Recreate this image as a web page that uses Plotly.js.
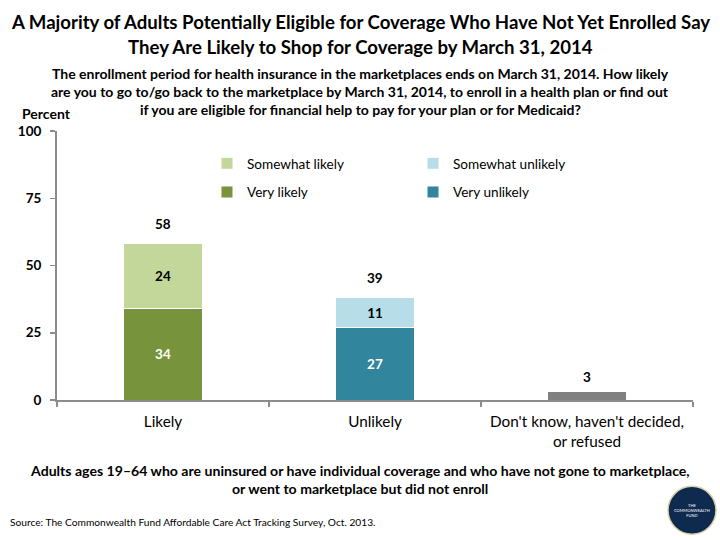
<!DOCTYPE html>
<html>
<head>
<meta charset="utf-8">
<script src="https://cdn.plot.ly/plotly-3.0.1.min.js"></script>
<style>html,body{margin:0;padding:0;background:#fff;}#chart{width:720px;height:540px;}</style>
</head>
<body>
<div id="chart"></div>
<script>
const categories = ["Likely", "Unlikely", "Don't know, haven't decided,<br>or refused"];
const veryLikely = [34, null, null];
const somewhatLikely = [24, null, null];
const veryUnlikely = [null, 27, null];
const somewhatUnlikely = [null, 11, null];
const dontKnow = [null, null, 3];
const totals = [58, 38, 3];
const totalLabels = ["58", "39", "3"];
const yTicks = [0, 25, 50, 75, 100];

const FONT = "Lato, 'Open Sans', sans-serif";
const L = 57, T = 131, B = 139.5, R = 27;
const plotH = 540 - T - B;
const py = p => (540 - B - p) / plotH;   // pixel y -> paper y
const px = p => (p - L) / (720 - L - R); // pixel x -> paper x

function barTrace(name, y, color, textColor, legend, showlegend) {
  return {
    type: 'bar', x: categories, y: y, name: name,
    marker: {color: color, line: {color: '#ffffff', width: 1}},
    width: 0.37,
    text: y.map(v => v == null ? '' : String(v)),
    textposition: 'inside', insidetextanchor: 'middle',
    textfont: {family: FONT, size: 13.5, color: textColor, weight: 'bold'},
    legend: legend, showlegend: showlegend,
    hoverinfo: 'skip', cliponaxis: false
  };
}

const data = [
  barTrace('Very likely', veryLikely, '#77933C', '#ffffff', 'legend', true),
  barTrace('Somewhat likely', somewhatLikely, '#C4D79B', '#000000', 'legend', true),
  barTrace('Very unlikely', veryUnlikely, '#31859C', '#ffffff', 'legend2', true),
  barTrace('Somewhat unlikely', somewhatUnlikely, '#B7DEE8', '#000000', 'legend2', true),
  barTrace("Don't know", dontKnow, '#808080', '#ffffff', 'legend', false)
];
data[4].text = ['', '', ''];
data[0].legendrank = 2; data[1].legendrank = 1;
data[2].legendrank = 2; data[3].legendrank = 1;

const annotations = [];
categories.forEach((c, i) => {
  annotations.push({
    x: c, y: totals[i], xref: 'x', yref: 'y', text: '<b>' + totalLabels[i] + '</b>',
    showarrow: false, yanchor: 'bottom', yshift: i === 2 ? 5 : 10,
    font: {family: FONT, size: 13.5, color: '#000'}
  });
});
const titleLines = ["A Majority of Adults Potentially Eligible for Coverage Who Have Not Yet Enrolled Say",
  "They Are Likely to Shop for Coverage by March 31, 2014"];
titleLines.forEach((s, i) => {
  annotations.push({xref: 'paper', yref: 'paper', x: px(360), y: py(22 + 25 * i), xanchor: 'center', yanchor: 'middle',
    text: '<b>' + s + '</b>', showarrow: false, font: {family: FONT, size: 18.6, color: '#000'}});
});
const subtitle = ["The enrollment period for health insurance in the marketplaces ends on March 31, 2014. How likely",
  "are you to go to/go back to the marketplace by March 31, 2014, to enroll in a health plan or find out",
  "if you are eligible for financial help to pay for your plan or for Medicaid?"];
subtitle.forEach((s, i) => {
  annotations.push({xref: 'paper', yref: 'paper', x: px(360), y: py(73 + 18 * i), xanchor: 'center', yanchor: 'middle',
    text: '<b>' + s + '</b>', showarrow: false, font: {family: FONT, size: 14, color: '#000'}});
});
annotations.push({xref: 'paper', yref: 'paper', x: px(20), y: py(113), xanchor: 'left', yanchor: 'middle',
  text: '<b>Percent</b>', showarrow: false, font: {family: FONT, size: 14, color: '#000'}});
annotations.push({xref: 'paper', yref: 'paper', x: px(360), y: py(471), xanchor: 'center', yanchor: 'middle',
  text: '<b>Adults ages 19–64 who are uninsured or have individual coverage and who have not gone to marketplace,</b>',
  showarrow: false, font: {family: FONT, size: 14.1, color: '#000'}});
annotations.push({xref: 'paper', yref: 'paper', x: px(360), y: py(489), xanchor: 'center', yanchor: 'middle',
  text: '<b>or went to marketplace but did not enroll</b>',
  showarrow: false, font: {family: FONT, size: 14.1, color: '#000'}});
annotations.push({xref: 'paper', yref: 'paper', x: px(8), y: py(523), xanchor: 'left', yanchor: 'middle',
  text: 'Source: The Commonwealth Fund Affordable Care Act Tracking Survey, Oct. 2013.',
  showarrow: false, font: {family: FONT, size: 10.2, color: '#000'}});
annotations.push({xref: 'paper', yref: 'paper', x: px(692), y: py(511), xanchor: 'center', yanchor: 'middle',
  text: 'THE<br>COMMONWEALTH<br>FUND', showarrow: false, font: {family: FONT, size: 4, color: '#ffffff'}});

const legendFont = {family: FONT, size: 13.6, color: '#000'};
const layout = {
  width: 720, height: 540,
  margin: {l: L, r: R, t: T, b: B},
  paper_bgcolor: '#fff', plot_bgcolor: '#fff',
  barmode: 'stack',
  xaxis: {type: 'category', showline: true, linecolor: '#8c8c8c', linewidth: 2, ticks: 'outside', tickson: 'boundaries',
    ticklen: 5, tickcolor: '#8c8c8c', tickwidth: 1.5, showgrid: false, zeroline: false, ticklabelstandoff: 7,
    tickfont: {family: FONT, size: 15.3, color: '#000'}},
  yaxis: {range: [0, 100], tickvals: yTicks, showline: true, linecolor: '#8c8c8c', linewidth: 2, ticks: 'outside',
    ticklen: 5, tickcolor: '#8c8c8c', tickwidth: 1.5, showgrid: false, zeroline: false, ticklabelstandoff: 6,
    tickfont: {family: FONT, size: 13.5, color: '#000', weight: 'bold'}},
  legend: {x: px(207), y: py(148), xanchor: 'left', yanchor: 'top', traceorder: 'grouped', tracegroupgap: 8,
    font: legendFont, bgcolor: 'rgba(0,0,0,0)'},
  legend2: {x: px(413), y: py(148), xanchor: 'left', yanchor: 'top', traceorder: 'grouped', tracegroupgap: 8,
    font: legendFont, bgcolor: 'rgba(0,0,0,0)'},
  shapes: [{type: 'circle', xref: 'paper', yref: 'paper', x0: px(668), x1: px(716), y0: py(535), y1: py(487),
    fillcolor: '#0f2a4f', line: {color: '#d8d2a8', width: 1.5}}],
  annotations: annotations,
  showlegend: true
};
data.forEach((d, i) => { d.legendgroup = 'g' + i; });

Plotly.newPlot('chart', data, layout, {displayModeBar: false, staticPlot: true});
</script>
</body>
</html>
